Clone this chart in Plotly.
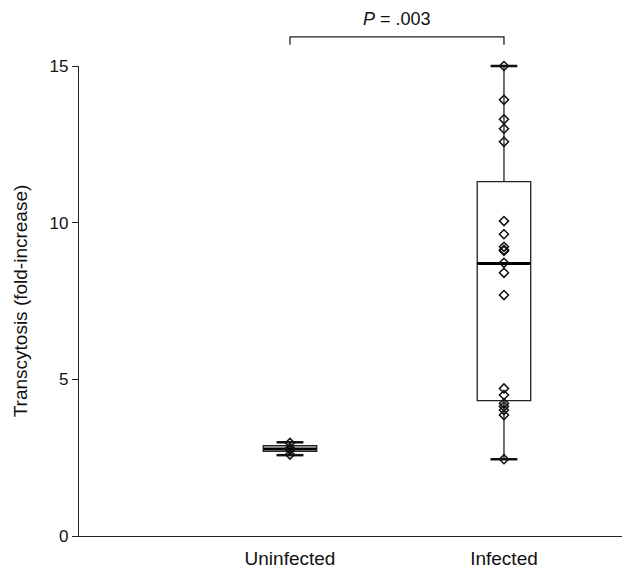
import plotly.graph_objects as go

categories = ["Uninfected", "Infected"]
cat_pos = [1, 2]

# box statistics (fold-increase)
q1 = [2.70, 4.32]
median = [2.78, 8.70]
q3 = [2.88, 11.31]
lower = [2.58, 2.45]
upper = [2.99, 15.0]

# individual data points
uninfected_pts = [2.60, 2.75, 2.80, 2.97]
infected_pts = [15.0, 13.92, 13.30, 13.0, 12.58, 10.05, 9.63, 9.23, 9.13, 9.10,
                8.72, 8.40, 7.69, 4.71, 4.50, 4.23, 4.13, 4.02, 3.86, 2.45]

p_text = "<i>P</i> = .003"

BOX_W = 0.25
FONT = "Liberation Sans, Arial, sans-serif"

fig = go.Figure()

for i, c in enumerate(categories):
    fig.add_trace(go.Box(
        x=[cat_pos[i]], q1=[q1[i]], median=[median[i]], q3=[q3[i]],
        lowerfence=[lower[i]], upperfence=[upper[i]],
        width=BOX_W, fillcolor="white",
        line=dict(color="#222222", width=1.3),
        boxpoints=False, showlegend=False, hoverinfo="skip"))

# whisker caps
cap_x = [cat_pos[0], cat_pos[0], cat_pos[1], cat_pos[1]]
cap_y = [lower[0], upper[0], lower[1], upper[1]]
fig.add_trace(go.Scatter(
    x=cap_x, y=cap_y, mode="markers", cliponaxis=False,
    marker=dict(symbol="line-ew", size=19, line=dict(color="#111111", width=2.5)),
    showlegend=False, hoverinfo="skip"))

# thick median lines
fig.add_trace(go.Scatter(
    x=cat_pos, y=median, mode="markers", cliponaxis=False,
    marker=dict(symbol="line-ew", size=38, line=dict(color="#000000", width=3)),
    showlegend=False, hoverinfo="skip"))

# points
fig.add_trace(go.Scatter(
    x=[cat_pos[0]] * len(uninfected_pts) + [cat_pos[1]] * len(infected_pts),
    y=uninfected_pts + infected_pts, mode="markers", cliponaxis=False,
    marker=dict(symbol="diamond-open", size=7, color="#111111",
                line=dict(color="#111111", width=1.5)),
    showlegend=False, hoverinfo="skip"))

# significance bracket
fig.add_shape(type="path", xref="x", yref="paper",
              path=f"M {cat_pos[0]},1.045 L {cat_pos[0]},1.062 L {cat_pos[1]},1.062 L {cat_pos[1]},1.045",
              line=dict(color="#222222", width=1.3))
fig.add_annotation(x=(cat_pos[0] + cat_pos[1]) / 2, xref="x", y=1.099, yref="paper",
                   yanchor="middle", xanchor="center",
                   text=p_text, showarrow=False,
                   font=dict(family=FONT, size=18, color="#111111"))

fig.update_layout(
    width=630, height=569,
    margin=dict(l=71, r=8, t=58, b=41),
    plot_bgcolor="white", paper_bgcolor="white",
    font=dict(family=FONT, color="#111111"),
    xaxis=dict(range=[0.014, 2.589], tickvals=cat_pos, ticktext=categories,
               showline=True, linecolor="#222222", linewidth=1.3,
               ticks="", showgrid=False, zeroline=False, ticklabelstandoff=5,
               tickfont=dict(size=19, family=FONT, color="#111111")),
    yaxis=dict(range=[0, 15], tickvals=[0, 5, 10, 15],
               showline=True, linecolor="#222222", linewidth=1.3,
               ticks="outside", ticklen=6, tickcolor="#222222", tickwidth=1.3,
               showgrid=False, zeroline=False,
               tickfont=dict(size=17, family=FONT, color="#111111"),
               title=dict(text="Transcytosis (fold-increase)", standoff=16,
                          font=dict(size=19, family=FONT, color="#111111"))),
)

fig.write_html("out.html")
